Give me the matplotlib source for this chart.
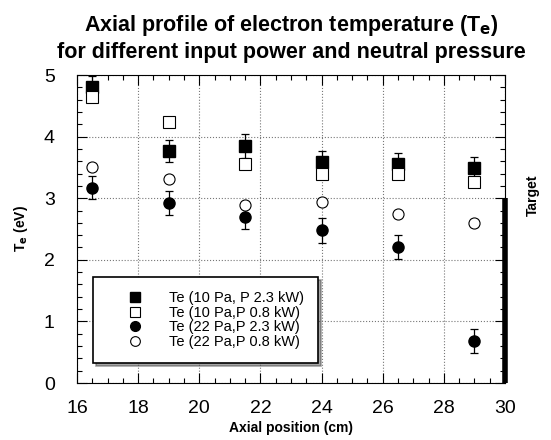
import numpy as np
import matplotlib
matplotlib.use('Agg')
import matplotlib.pyplot as plt
from matplotlib.ticker import MultipleLocator
from matplotlib.lines import Line2D

plt.rcParams['font.family'] = ['Liberation Sans', 'DejaVu Sans']

" DATA "

pos = [16.5, 19, 21.5, 24, 26.5, 29]

te_10_23 = [4.80, 3.77, 3.85, 3.59, 3.55, 3.49]
te_10_08 = [4.65, 4.23, 3.56, 3.39, 3.39, 3.26]
te_22_23 = [3.17, 2.92, 2.69, 2.48, 2.21, 0.68]
te_22_08 = [3.51, 3.32, 2.89, 2.94, 2.74, 2.60]

err_10_23 = [0.18, 0.18, 0.19, 0.18, 0.18, 0.18]
err_10_08 = [0.08, 0.08, 0.08, 0.08, 0.08, 0.08]
err_22_23 = [0.19, 0.19, 0.19, 0.20, 0.20, 0.20]
err_22_08 = [0.06, 0.06, 0.06, 0.06, 0.06, 0.06]

labels = ['Te (10 Pa, P 2.3 kW)', 'Te (10 Pa,P 0.8 kW)',
          'Te (22 Pa,P 2.3 kW)', 'Te (22 Pa,P 0.8 kW)']

target_x = 30
target_top = 3.0

fig = plt.figure(figsize=(5.51, 4.40), dpi=100)
ax = fig.add_axes([0.1397, 0.1295, 0.7768, 0.70])

kw = dict(capsize=3, elinewidth=0.9, capthick=0.9, ecolor='k', ms=8, ls='none')
ax.errorbar(pos, te_10_23, yerr=err_10_23, fmt='s', mfc='k', mec='k', **kw)
ax.errorbar(pos, te_10_08, yerr=err_10_08, fmt='s', mfc='white', mec='k', mew=0.8, **kw)
ax.errorbar(pos, te_22_23, yerr=err_22_23, fmt='o', mfc='k', mec='k', **kw)
ax.errorbar(pos, te_22_08, yerr=err_22_08, fmt='o', mfc='white', mec='k', mew=0.8, **kw)

# target plate
ax.plot([target_x, target_x], [0, target_top], color='k', lw=4, solid_capstyle='butt', clip_on=False)
ax.text(target_x + 0.9, 3.05, 'Target', rotation=90, ha='center', va='center',
        fontsize=10, fontweight='bold')

ax.set_xlim(16, 30)
ax.set_ylim(0, 5)
ax.xaxis.set_major_locator(MultipleLocator(2))
ax.xaxis.set_minor_locator(MultipleLocator(0.5))
ax.yaxis.set_major_locator(MultipleLocator(1))
ax.yaxis.set_minor_locator(MultipleLocator(0.2))
ax.tick_params(which='both', direction='in', top=True, right=True, labelsize=14, width=0.8)
ax.tick_params(which='major', length=7)
ax.tick_params(axis='x', which='major', pad=12)
ax.tick_params(axis='y', which='major', pad=16)
ax.tick_params(which='minor', length=3.5)
ax.grid(True, which='major', ls=':', color='#777777', lw=0.8)

ax.set_xlabel('Axial position (cm)', fontsize=10, fontweight='bold', labelpad=3)
ax.set_ylabel(r'T$_\mathbf{e}$ (eV)', fontsize=10, fontweight='bold', labelpad=10)
ax.set_title('Axial profile of electron temperature (T$_\\mathbf{e}$)\n'
             'for different input power and neutral pressure',
             fontsize=15.5, fontweight='bold', pad=12, linespacing=1.25)

handles = [
    Line2D([], [], ls='none', marker='s', mfc='k', mec='k', ms=7),
    Line2D([], [], ls='none', marker='s', mfc='white', mec='k', mew=0.8, ms=7),
    Line2D([], [], ls='none', marker='o', mfc='k', mec='k', ms=7),
    Line2D([], [], ls='none', marker='o', mfc='white', mec='k', mew=0.8, ms=7),
]
leg = ax.legend(handles, labels, loc='lower left', bbox_to_anchor=(0.037, 0.065), fontsize=10.5,
                frameon=True, fancybox=False, shadow=True, handlelength=3.9, handletextpad=0.4,
                borderpad=0.95, labelspacing=0.05, borderaxespad=0)
leg.get_frame().set_edgecolor('k')
leg.get_frame().set_linewidth(1.2)

plt.savefig('out.png', dpi=100)
